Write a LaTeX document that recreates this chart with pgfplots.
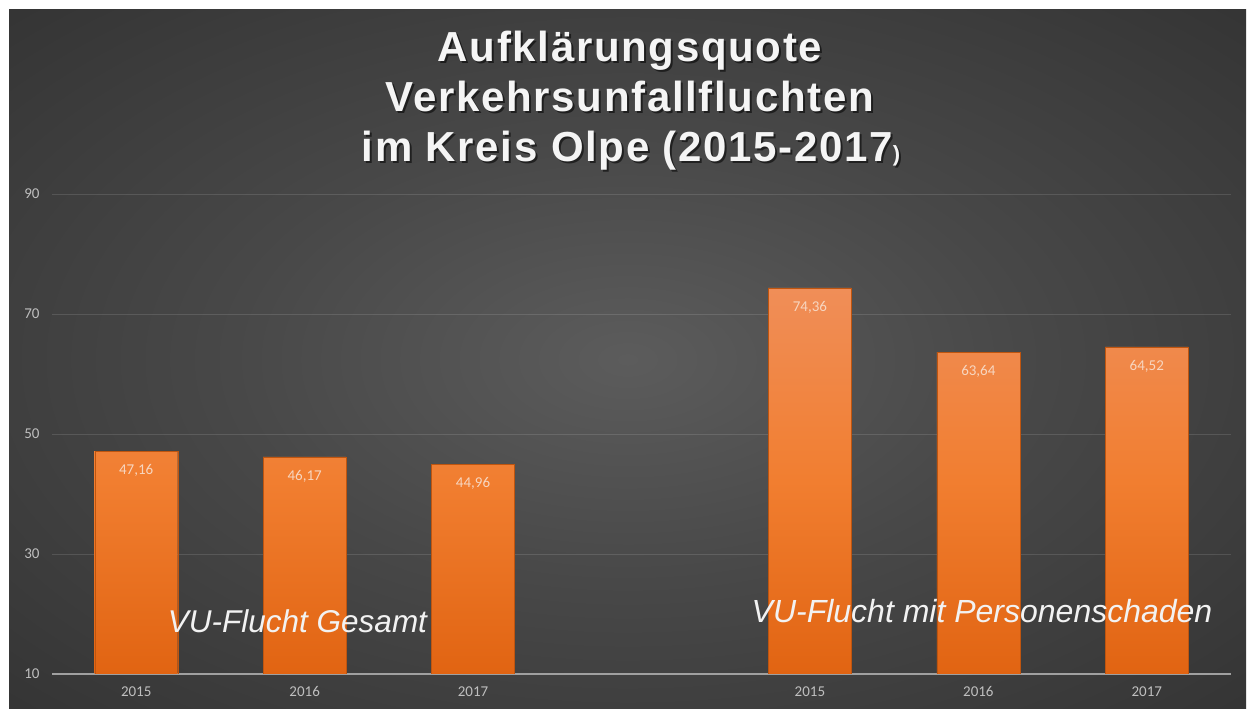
\documentclass[border=0pt]{standalone}
\usepackage{pgfplots}
\pgfplotsset{compat=1.18}
\usepackage{fontspec}
\setmainfont{Liberation Sans}
\newfontfamily\carlito{Carlito}
\newfontfamily\titlefont[LetterSpace=4]{Liberation Sans}
\definecolor{bgin}{RGB}{92,92,92}
\definecolor{bgmid}{RGB}{72,72,72}
\definecolor{bgout}{RGB}{38,38,38}
\definecolor{bartop}{RGB}{240,142,88}
\definecolor{barmid}{RGB}{241,126,48}
\definecolor{barbot}{RGB}{225,100,18}
\definecolor{lbl}{RGB}{247,214,192}
\definecolor{tickc}{RGB}{191,191,191}
\definecolor{axc}{RGB}{160,160,160}
\pgfdeclareradialshading{bgshade}{\pgfpointorigin}{color(0bp)=(bgin); color(16bp)=(bgmid); color(50bp)=(bgout); color(80bp)=(bgout)}
\begin{document}
\begin{tikzpicture}
\useasboundingbox (0,0) rectangle (1247pt,709pt);
\fill[white] (0,0) rectangle (1247pt,709pt);
\shade[shading=bgshade] (9pt,0pt) rectangle (1246pt,699pt);
\begin{axis}[
  at={(52pt,35pt)}, anchor=south west,
  scale only axis, width=1179pt, height=480pt,
  xmin=-0.5, xmax=6.5, ymin=10, ymax=90,
  ytick={10,30,50,70,90},
  xtick={0,1,2,4,5,6},
  xticklabels={2015,2016,2017,2015,2016,2017},
  ymajorgrids,
  grid style={white, opacity=0.12, line width=0.8pt},
  separate axis lines,
  axis x line*=bottom, axis y line*=left,
  y axis line style={draw=none},
  x axis line style={draw=axc, line width=1.5pt, -},
  major tick length=0pt, tick style={draw=none},
  ticklabel style={font=\carlito\fontsize{15}{15}\selectfont, text=tickc},
  xticklabel style={yshift=-9pt},
  yticklabel style={xshift=-9pt},
  /pgf/number format/assume math mode=true,
]
\addplot[ybar, bar width=83pt, bar shift=0pt,
  draw=barbot!85!black, line width=0.4pt,
  top color=bartop, bottom color=barbot, middle color=barmid,
  nodes near coords={\pgfmathprintnumber[fixed,fixed zerofill,precision=2,use comma,assume math mode=true]{\pgfplotspointmeta}},
  every node near coord/.append style={anchor=north, yshift=-13pt, inner sep=0pt,
    font=\carlito\fontsize{15}{15}\selectfont, text=lbl}]
coordinates {(0,47.16) (1,46.17) (2,44.96) (4,74.36) (5,63.64) (6,64.52)};
\end{axis}
\node[anchor=base, font=\itshape\fontsize{31.5}{31.5}\selectfont, text=white!95!black] at (297.5pt,76pt) {VU-Flucht Gesamt};
\node[anchor=base, font=\itshape\fontsize{32}{32}\selectfont, text=white!95!black] at (982pt,86pt) {VU-Flucht mit Personenschaden};
\begin{scope}[every node/.style={anchor=base, font=\titlefont\bfseries\fontsize{42}{42}\selectfont}]
\node[text=black, opacity=0.55] at (632pt,645pt) {Aufklärungsquote};
\node[text=black, opacity=0.55] at (632pt,595pt) {Verkehrsunfallfluchten};
\node[text=black, opacity=0.55] at (633pt,545pt) {im Kreis Olpe (2015-2017{\fontsize{22}{22}\selectfont)}};
\node[text=white!96!black] at (630pt,647pt) {Aufklärungsquote};
\node[text=white!96!black] at (630pt,597pt) {Verkehrsunfallfluchten};
\node[text=white!96!black] at (631pt,547pt) {im Kreis Olpe (2015-2017{\fontsize{22}{22}\selectfont)}};
\end{scope}
\end{tikzpicture}
\end{document}
